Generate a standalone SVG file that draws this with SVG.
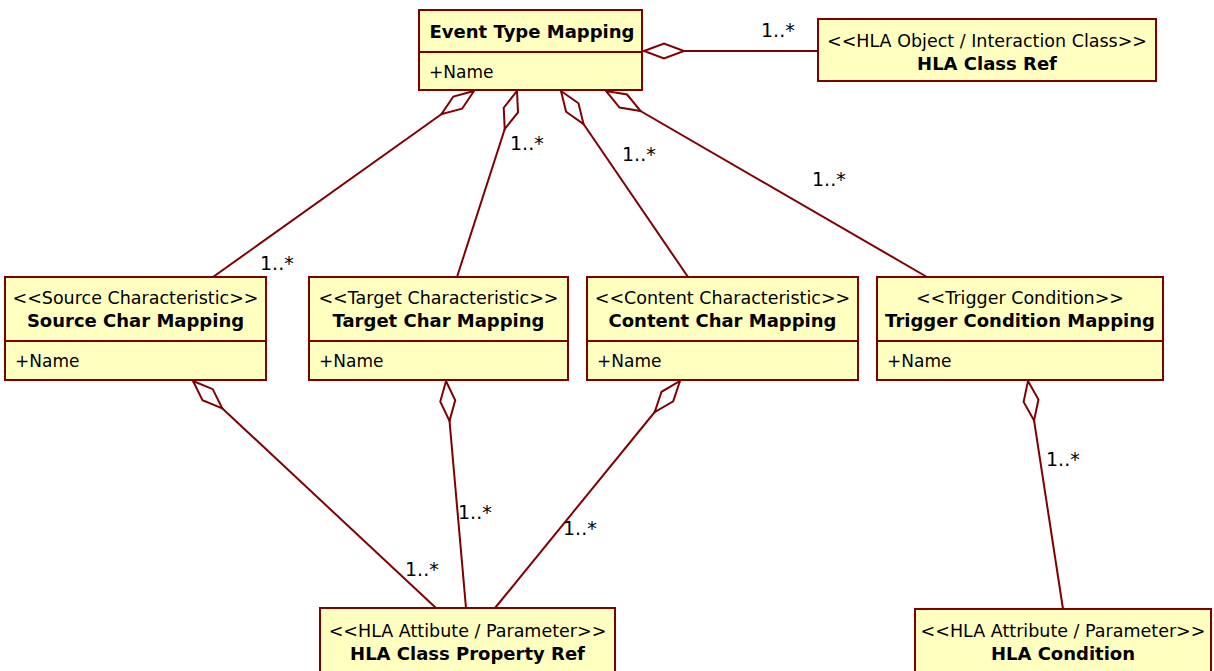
<svg xmlns="http://www.w3.org/2000/svg" width="1214" height="671" viewBox="0 0 1214 671">
  <defs>
    <style>
      .box { fill: #ffffc0; stroke: #800000; stroke-width: 2; }
      .div { stroke: #800000; stroke-width: 2; }
      .conn { stroke: #800000; stroke-width: 2; fill: none; }
      text { font-family: "DejaVu Sans", Verdana, sans-serif; fill: #000; }
      .st { font-size: 17.5px; text-anchor: middle; }
      .ti { font-size: 18px; font-weight: bold; text-anchor: middle; }
      .at { font-size: 17px; }
      .mult { font-size: 19px; }
    </style>
    <!-- hollow aggregation diamond placed at the whole-end of a connector -->
    <marker id="agg" markerUnits="userSpaceOnUse" orient="auto" refX="0" refY="0"
            markerWidth="44" markerHeight="20" overflow="visible">
      <path d="M0,0 L20,-7.5 L40,0 L20,7.5 Z" fill="#fff" stroke="#800000" stroke-width="2" stroke-linejoin="miter"/>
    </marker>
  </defs>

  <rect width="1214" height="671" fill="#fff"/>

  <!-- connectors: each path starts at the aggregating class -->
  <g id="connectors">
    <path class="conn" marker-start="url(#agg)" d="M644,51 L818,51"/>
    <path class="conn" marker-start="url(#agg)" d="M474,91 L213,277"/>
    <path class="conn" marker-start="url(#agg)" d="M517,91 L457,277"/>
    <path class="conn" marker-start="url(#agg)" d="M561,91 L688,277"/>
    <path class="conn" marker-start="url(#agg)" d="M606,91 L927,277"/>
    <path class="conn" marker-start="url(#agg)" d="M193,381 L436,608"/>
    <path class="conn" marker-start="url(#agg)" d="M446,381 L466,608"/>
    <path class="conn" marker-start="url(#agg)" d="M680,381 L495,608"/>
    <path class="conn" marker-start="url(#agg)" d="M1028,381 L1063,609"/>

    <text class="mult" x="761" y="37">1..*</text>
    <text class="mult" x="510" y="150">1..*</text>
    <text class="mult" x="622" y="161">1..*</text>
    <text class="mult" x="812" y="186">1..*</text>
    <text class="mult" x="260" y="270">1..*</text>
    <text class="mult" x="1046" y="466">1..*</text>
    <text class="mult" x="458" y="519">1..*</text>
    <text class="mult" x="563" y="535">1..*</text>
    <text class="mult" x="405" y="576">1..*</text>
  </g>

  <g id="event-type-mapping">
    <rect class="box" x="419" y="10" width="223" height="80"/>
    <line class="div" x1="419" y1="52" x2="642" y2="52"/>
    <text class="ti" x="532" y="38">Event Type Mapping</text>
    <text class="at" x="429" y="78">+Name</text>
  </g>

  <g id="hla-class-ref">
    <rect class="box" x="818" y="19" width="338" height="62"/>
    <text class="st" x="987" y="47">&lt;&lt;HLA Object / Interaction Class&gt;&gt;</text>
    <text class="ti" x="987" y="70">HLA Class Ref</text>
  </g>

  <g id="source-char-mapping">
    <rect class="box" x="5" y="277" width="261" height="103"/>
    <line class="div" x1="5" y1="341" x2="266" y2="341"/>
    <text class="st" x="135.5" y="304">&lt;&lt;Source Characteristic&gt;&gt;</text>
    <text class="ti" x="135.5" y="327">Source Char Mapping</text>
    <text class="at" x="15" y="367">+Name</text>
  </g>

  <g id="target-char-mapping">
    <rect class="box" x="309" y="277" width="259" height="103"/>
    <line class="div" x1="309" y1="341" x2="568" y2="341"/>
    <text class="st" x="438.5" y="304">&lt;&lt;Target Characteristic&gt;&gt;</text>
    <text class="ti" x="438.5" y="327">Target Char Mapping</text>
    <text class="at" x="319" y="367">+Name</text>
  </g>

  <g id="content-char-mapping">
    <rect class="box" x="587" y="277" width="271" height="103"/>
    <line class="div" x1="587" y1="341" x2="858" y2="341"/>
    <text class="st" x="722.5" y="304">&lt;&lt;Content Characteristic&gt;&gt;</text>
    <text class="ti" x="722.5" y="327">Content Char Mapping</text>
    <text class="at" x="597" y="367">+Name</text>
  </g>

  <g id="trigger-condition-mapping">
    <rect class="box" x="877" y="277" width="286" height="103"/>
    <line class="div" x1="877" y1="341" x2="1163" y2="341"/>
    <text class="st" x="1020" y="304">&lt;&lt;Trigger Condition&gt;&gt;</text>
    <text class="ti" x="1020" y="327">Trigger Condition Mapping</text>
    <text class="at" x="887" y="367">+Name</text>
  </g>

  <g id="hla-class-property-ref">
    <rect class="box" x="320" y="608" width="295" height="75"/>
    <text class="st" x="467.5" y="637">&lt;&lt;HLA Attibute / Parameter&gt;&gt;</text>
    <text class="ti" x="467.5" y="660">HLA Class Property Ref</text>
  </g>

  <g id="hla-condition">
    <rect class="box" x="915" y="609" width="296" height="75"/>
    <text class="st" x="1063" y="637">&lt;&lt;HLA Attribute / Parameter&gt;&gt;</text>
    <text class="ti" x="1063" y="660">HLA Condition</text>
  </g>
</svg>
